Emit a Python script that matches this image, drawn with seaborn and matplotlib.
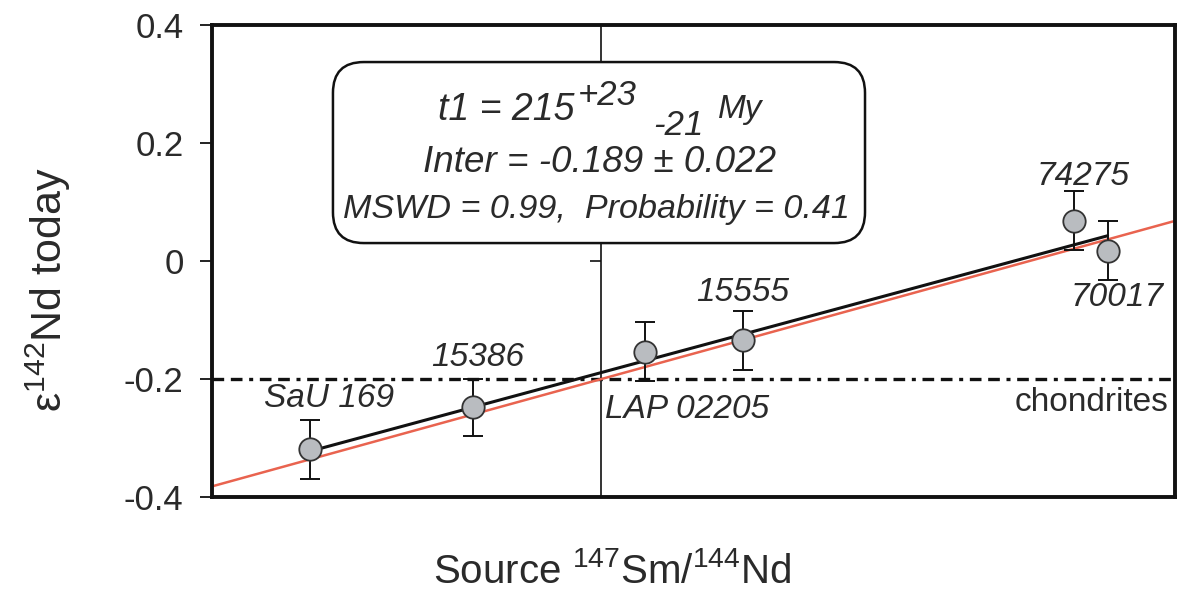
import matplotlib
matplotlib.use("Agg")
import matplotlib.pyplot as plt
from matplotlib.patches import FancyBboxPatch
from matplotlib.transforms import blended_transform_factory
import numpy as np
import pandas as pd
import seaborn as sns

# ---- data -------------------------------------------------------------
samples = ["SaU 169", "15386", "LAP 02205", "15555", "74275", "70017"]
sm_nd = [0.1694, 0.1846, 0.2007, 0.2098, 0.2408, 0.2439]
eps142 = [-0.319, -0.248, -0.154, -0.134, 0.068, 0.017]
eps142_err = [0.05, 0.048, 0.05, 0.05, 0.05, 0.05]

chondrite_sm_nd = 0.1966
chondrite_eps = -0.2

# isochron fit (black) and reference line (red)
fit_intercept = -0.189
fit_slope = 4.9
ref_line_x = [0.16, 0.25]
ref_line_y = [-0.383, 0.067]

y_ticks = [-0.4, -0.2, 0.0, 0.2, 0.4]
y_tick_labels = ["-0.4", "-0.2", "0", "0.2", "0.4"]
x_limits = (0.1602, 0.2502)

# label offsets (pixels) for each sample name
label_offsets = {
    "SaU 169": (19, 51),
    "15386": (5, 50),
    "LAP 02205": (42, -58),
    "15555": (0, 48),
    "74275": (9, 44),
    "70017": (10, -47),
}

# ---- style ------------------------------------------------------------
sns.set_theme(style="ticks")
plt.rcParams["font.family"] = ["Liberation Sans", "DejaVu Sans"]
plt.rcParams["mathtext.fontset"] = "custom"
plt.rcParams["mathtext.rm"] = "Liberation Sans"
plt.rcParams["mathtext.it"] = "Liberation Sans:italic"

text_col = "#2a2a2a"
fs = 24

fig = plt.figure(figsize=(11.8, 5.95), dpi=100)
ax = fig.add_axes([212 / 1180, 1 - 497 / 595, 963 / 1180, 472 / 595])

df = pd.DataFrame({"x": sm_nd, "y": eps142, "err": eps142_err, "name": samples})

# reference (red) line across the full axis
ref_df = pd.DataFrame({"x": ref_line_x, "y": ref_line_y})
sns.lineplot(data=ref_df, x="x", y="y", ax=ax, color="#e9634f", lw=1.8, zorder=2)

# isochron fit spanning the samples
fit_x = np.array([min(sm_nd), max(sm_nd)])
fit_df = pd.DataFrame({"x": fit_x, "y": fit_intercept + fit_slope * (fit_x - chondrite_sm_nd)})
sns.lineplot(data=fit_df, x="x", y="y", ax=ax, color="#111111", lw=2.2, zorder=3)

# chondritic reference lines
ax.axhline(chondrite_eps, color="#111111", lw=2.4, dashes=(3.5, 2, 3.5, 2, 1.2, 2), zorder=1)
ax.axvline(chondrite_sm_nd, color="#111111", lw=1.2, zorder=1)
ax.plot([chondrite_sm_nd], [0.0], marker=0, ms=8, mew=1.2, color="#111111", zorder=1)

# error bars and sample points
ax.errorbar(df["x"], df["y"], yerr=df["err"], fmt="none", ecolor="#111111",
            elinewidth=1.4, capsize=7, capthick=1.4, zorder=4)
sns.scatterplot(data=df, x="x", y="y", ax=ax, s=260, color="#b9bcc0",
                edgecolor="#333333", linewidth=1.3, zorder=5, legend=False)

for name, x, y in zip(samples, sm_nd, eps142):
    dx, dy = label_offsets[name]
    ax.annotate(name, xy=(x, y), xytext=(dx, dy), textcoords="offset pixels",
                ha="center", va="center", fontsize=fs, style="italic", color=text_col)

trans = blended_transform_factory(ax.transAxes, ax.transData)
ax.text(0.993, chondrite_eps - 0.013, "chondrites", transform=trans, ha="right",
        va="top", fontsize=fs, color=text_col)

# results box
box = FancyBboxPatch((0.1256, 0.538), 0.5525, 0.3835, transform=ax.transAxes,
                     boxstyle="round,pad=0,rounding_size=0.032",
                     mutation_aspect=963 / 472,
                     facecolor="white", edgecolor="#111111", lw=1.8, zorder=6)
ax.add_patch(box)

box_text = dict(transform=ax.transAxes, style="italic", color=text_col, zorder=7)
ax.text(0.2347, 0.7987, "t1 = 215", ha="left", va="baseline", fontsize=27, **box_text)
ax.text(0.380, 0.8305, "+23", ha="left", va="baseline", fontsize=25, **box_text)
ax.text(0.458, 0.767, "-21", ha="left", va="baseline", fontsize=25, **box_text)
ax.text(0.5254, 0.803, "My", ha="left", va="baseline", fontsize=24, **box_text)
ax.text(0.4029, 0.6886, "Inter = -0.189 \u00b1 0.022", ha="center", va="baseline",
        fontsize=26.5, **box_text)
ax.text(0.3993, 0.591, "MSWD = 0.99,  Probability = 0.41", ha="center", va="baseline",
        fontsize=24.6, **box_text)

# axes
ax.set_xlim(*x_limits)
ax.set_ylim(-0.4, 0.4)
ax.set_yticks(y_ticks)
ax.set_yticklabels(y_tick_labels)
ax.set_xticks([])
ax.tick_params(axis="y", direction="out", length=8.5, width=1.3, labelsize=25,
               labelcolor=text_col, color="#111111", pad=12)
for sp in ax.spines.values():
    sp.set_linewidth(2.8)
    sp.set_color("#111111")

ax.set_xlabel("Source $^{147}$Sm/$^{144}$Nd", fontsize=29, color=text_col)
ax.xaxis.set_label_coords(0.415, -0.182)
ax.xaxis.label.set_va("baseline")
ax.set_ylabel("\u03b5$^{142}$Nd today", fontsize=31, color=text_col)
ax.yaxis.set_label_coords(-0.17, 0.4386)
ax.yaxis.label.set_va("center")

fig.savefig("out.png", dpi=100, facecolor="white")
